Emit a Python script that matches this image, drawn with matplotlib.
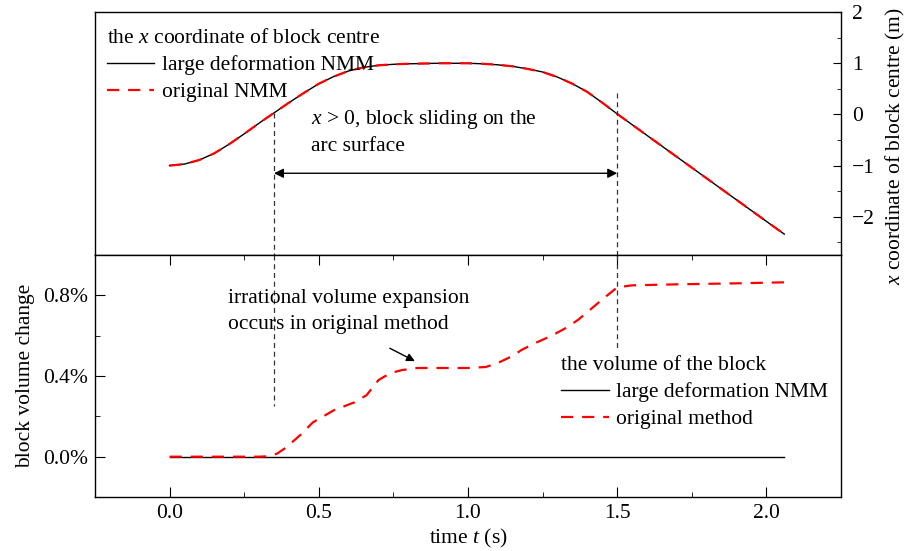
import numpy as np
import matplotlib
matplotlib.use("Agg")
import matplotlib.pyplot as plt
from matplotlib.ticker import MultipleLocator, FuncFormatter

plt.rcParams['font.family'] = 'Liberation Serif'
plt.rcParams['font.size'] = 15.5
plt.rcParams['mathtext.fontset'] = 'custom'
plt.rcParams['mathtext.rm'] = 'Liberation Serif'
plt.rcParams['mathtext.it'] = 'Liberation Serif:italic'

# x coordinate of block centre (m)
t_x = [0.00, 0.05, 0.10, 0.15, 0.20, 0.25, 0.30, 0.35, 0.40, 0.45, 0.50,
       0.55, 0.60, 0.65, 0.70, 0.75, 0.80, 0.90, 1.00, 1.05, 1.10, 1.15,
       1.20, 1.25, 1.30, 1.35, 1.40, 1.45, 1.50, 1.55, 1.60, 1.70, 1.80,
       1.90, 2.00, 2.06]
x_large = [-1.00, -0.97, -0.89, -0.76, -0.58, -0.38, -0.17, 0.03, 0.23, 0.42,
           0.60, 0.74, 0.85, 0.92, 0.96, 0.98, 0.99, 1.00, 1.00, 0.99, 0.97,
           0.94, 0.89, 0.83, 0.73, 0.60, 0.44, 0.23, 0.01, -0.20, -0.41,
           -0.83, -1.25, -1.67, -2.09, -2.34]
x_orig = list(x_large)

# block volume change (%)
t_v = [0.00, 2.06]
v_large = [0.0, 0.0]
t_vo = [0.00, 0.10, 0.20, 0.30, 0.33, 0.36, 0.39, 0.44, 0.48, 0.55, 0.62,
        0.66, 0.70, 0.74, 0.78, 0.83, 0.90, 1.00, 1.06, 1.10, 1.15, 1.18,
        1.22, 1.28, 1.33, 1.37, 1.41, 1.45, 1.50, 1.55, 1.70, 1.90, 2.06]
v_orig = [0.0, 0.0, 0.0, 0.0, 0.002, 0.015, 0.045, 0.11, 0.17, 0.23, 0.27,
          0.305, 0.38, 0.415, 0.43, 0.44, 0.44, 0.44, 0.445, 0.465, 0.50, 0.53,
          0.56, 0.60, 0.64, 0.68, 0.73, 0.78, 0.84, 0.85, 0.855, 0.86, 0.865]

t_start, t_end = 0.35, 1.50

fig = plt.figure(figsize=(9.08, 5.51), dpi=100)
ax1 = fig.add_axes([0.1046, 0.537, 0.8216, 0.441])
ax2 = fig.add_axes([0.1046, 0.098, 0.8216, 0.439], sharex=ax1)

red_dash = dict(color='red', lw=1.6, dashes=(5.5, 4))

# top panel
ax1.plot(t_x, x_large, color='black', lw=1.0, label='large deformation NMM')
ax1.plot(t_x, x_orig, label='original NMM', **red_dash)
ax1.set_xlim(-0.25, 2.25)
ax1.set_ylim(-2.75, 2)
ax1.plot([t_start, t_start], [0.02, -2.75], color='#333333', lw=0.9, dashes=(4, 3))
ax1.plot([t_end, t_end], [0.41, -2.75], color='#333333', lw=0.9, dashes=(4, 3))
ax1.annotate('', xy=(t_start, -1.15), xytext=(t_end, -1.15),
             arrowprops=dict(arrowstyle='<|-|>', color='black', lw=1.0,
                             mutation_scale=14, shrinkA=0, shrinkB=0))
ax1.text(0.475, 0.12, '$x$ > 0, block sliding on the\narc surface',
         va='top', ha='left', linespacing=1.4)

ax1.yaxis.tick_right()
ax1.yaxis.set_label_position('right')
ax1.set_ylabel('$x$ coordinate of block centre (m)')
ax1.yaxis.set_label_coords(1.058, 0.45)
ax1.yaxis.set_major_locator(MultipleLocator(1))
ax1.yaxis.set_minor_locator(MultipleLocator(0.5))
ax1.tick_params(axis='y', which='both', direction='in', right=True, left=False, pad=8)
ax1.tick_params(axis='y', which='major', length=6)
ax1.tick_params(axis='y', which='minor', length=3)
ax1.tick_params(axis='x', which='both', bottom=False, top=False, labelbottom=False)

leg1 = ax1.legend(title='the $x$ coordinate of block centre', loc='upper left',
                  bbox_to_anchor=(0.016, 0.93), frameon=False, alignment='left',
                  handlelength=2.2, handletextpad=0.35, labelspacing=0.32,
                  borderaxespad=0, borderpad=0)

# bottom panel
ax2.plot(t_v, v_large, color='black', lw=1.0, label='large deformation NMM')
ax2.plot(t_vo, v_orig, label='original method', **red_dash)
ax2.set_ylim(-0.2, 1.0)
ax2.plot([t_start, t_start], [1.0, 0.25], color='#333333', lw=0.9, dashes=(4, 3))
ax2.plot([t_end, t_end], [1.0, 0.54], color='#333333', lw=0.9, dashes=(4, 3))
ax2.annotate('', xy=(0.822, 0.474), xytext=(0.738, 0.538),
             arrowprops=dict(arrowstyle='-|>', color='black', lw=1.0,
                             mutation_scale=12, shrinkA=0, shrinkB=0))
ax2.text(0.195, 0.83, 'irrational volume expansion\noccurs in original method',
         va='top', ha='left', linespacing=1.5)

ax2.yaxis.set_major_locator(MultipleLocator(0.4))
ax2.yaxis.set_minor_locator(MultipleLocator(0.2))
ax2.yaxis.set_major_formatter(FuncFormatter(lambda v, p: f'{v:.1f}%'))
ax2.xaxis.set_major_locator(MultipleLocator(0.5))
ax2.xaxis.set_minor_locator(MultipleLocator(0.25))
ax2.xaxis.set_major_formatter(FuncFormatter(lambda v, p: f'{v:.1f}'))
ax2.tick_params(axis='both', which='both', direction='in', top=True, right=False)
ax2.tick_params(axis='both', which='major', length=7)
ax2.tick_params(axis='both', which='minor', length=3.5)
ax2.tick_params(axis='y', pad=5)
ax2.tick_params(axis='x', pad=5)
ax2.set_ylabel('block volume change', labelpad=6)
ax2.set_xlabel('time $t$ (s)', labelpad=3)

leg2 = ax2.legend(title='the volume of the block', loc='upper left',
                  bbox_to_anchor=(0.625, 0.582), frameon=False, alignment='left',
                  handlelength=2.2, handletextpad=0.35, labelspacing=0.32,
                  borderaxespad=0, borderpad=0)

for ax in (ax1, ax2):
    for s in ax.spines.values():
        s.set_linewidth(1.0)

fig.savefig('out.png', dpi=100)
